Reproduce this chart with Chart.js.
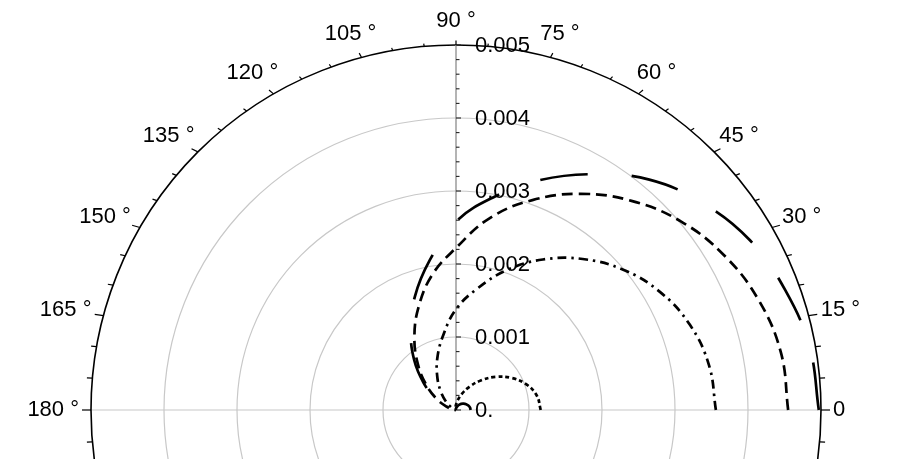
<!DOCTYPE html>
<html>
<head>
<meta charset="utf-8">
<script src="https://cdn.jsdelivr.net/npm/chart.js@4.4.1/dist/chart.umd.min.js"></script>
<style>
  html, body { margin: 0; padding: 0; background: #fff; overflow: hidden; }
  #wrap { width: 913px; height: 459px; position: relative; }
</style>
</head>
<body>
<div id="wrap"><canvas id="polarChart"></canvas></div>
<script>
// Ángulos (grados) y radios
const angles = [0, 10, 20, 30, 40, 50, 60, 70, 80, 90, 100, 110, 120, 130, 140, 150, 160, 170, 180];

const curveSolid    = [0.00020, 0.000195, 0.00018, 0.00016, 0.000135, 0.00011, 0.00008, 0.000055, 0.000035, 0.00002, 0.00001, 0, 0, 0, 0, 0, 0, 0, 0];
const curveDotted   = [0.00116, 0.001125, 0.001026, 0.000879, 0.000705, 0.000528, 0.000367, 0.000235, 0.000138, 0.000073, 0.000034, 0.000014, 0.000005, 0, 0, 0, 0, 0, 0];
const curveDotDash  = [0.00356, 0.00352, 0.00341, 0.00323, 0.00299, 0.00270, 0.00238, 0.00204, 0.00169, 0.00138, 0.00103, 0.00075, 0.00051, 0.00032, 0.00018, 0.00008, 0.00003, 0.00001, 0];
const curveDashed   = [0.00455, 0.00452, 0.00441, 0.00424, 0.00402, 0.00374, 0.00342, 0.00306, 0.00267, 0.00222, 0.00188, 0.00150, 0.00114, 0.00081, 0.00053, 0.00031, 0.00014, 0.00004, 0];
const curveLongDash = [0.00497, 0.00492, 0.00480, 0.00465, 0.00441, 0.00412, 0.00373, 0.00335, 0.00296, 0.00258, 0.00208, 0.00165, 0.00124, 0.00089, 0.00058, 0.00033, 0.00015, 0.00004, 0];

const radialTicks      = [0, 0.001, 0.002, 0.003, 0.004, 0.005];
const radialTickLabels = ['0.', '0.001', '0.002', '0.003', '0.004', '0.005'];
const angleTicks       = [0, 15, 30, 45, 60, 75, 90, 105, 120, 135, 150, 165, 180];
const angleTickLabels  = ['0', '15 °', '30 °', '45 °', '60 °', '75 °', '90 °', '105 °', '120 °', '135 °', '150 °', '165 °', '180 °'];

const rMax = 0.005;
const FONT = '22px "Liberation Sans", Arial, sans-serif';

// polar -> cartesiano
function toXY(rs) {
  return angles.map((a, i) => {
    const t = a * Math.PI / 180;
    return { x: rs[i] * Math.cos(t), y: rs[i] * Math.sin(t) };
  });
}

function curve(rs, dash) {
  return {
    data: toXY(rs),
    showLine: true,
    borderColor: '#000',
    borderWidth: 2.7,
    borderDash: dash,
    pointRadius: 0,
    tension: 0.4,
    fill: false
  };
}

// Marco polar: anillos, círculo exterior, marcas y etiquetas
const polarFrame = {
  id: 'polarFrame',
  beforeDatasetsDraw(chart) {
    const { ctx, scales: { x, y } } = chart;
    const cx = x.getPixelForValue(0), cy = y.getPixelForValue(0);
    const rad = v => x.getPixelForValue(v) - cx;
    const R = rad(rMax);
    ctx.save();

    ctx.strokeStyle = '#c8c8c8';
    ctx.lineWidth = 1.2;
    radialTicks.slice(1, -1).forEach(v => {
      ctx.beginPath();
      ctx.arc(cx, cy, rad(v), 0, 2 * Math.PI);
      ctx.stroke();
    });
    ctx.beginPath();
    ctx.moveTo(cx - R, cy);
    ctx.lineTo(cx + R, cy);
    ctx.stroke();

    ctx.strokeStyle = '#000';
    ctx.lineWidth = 1.6;
    ctx.beginPath();
    ctx.arc(cx, cy, R, 0, 2 * Math.PI);
    ctx.stroke();

    ctx.lineWidth = 1.2;
    for (let a = 0; a < 360; a += 5) {
      const t = a * Math.PI / 180, c = Math.cos(t), s = Math.sin(t);
      const len = a % 15 === 0 ? 9 : 5.5;
      const x0 = cx + R * c, y0 = cy - R * s;
      ctx.beginPath();
      ctx.moveTo(x0, y0);
      ctx.lineTo(x0 + len * c, y0 - len * 0.5 * s);
      ctx.stroke();
    }

    // eje radial
    ctx.strokeStyle = '#8c8c8c';
    ctx.lineWidth = 1.3;
    ctx.beginPath();
    ctx.moveTo(cx, cy);
    ctx.lineTo(cx, cy - R);
    ctx.stroke();
    ctx.strokeStyle = '#222';
    ctx.lineWidth = 1.1;
    for (let i = 0; i <= 25; i++) {
      const yy = cy - rad(i * 0.0002);
      const len = i % 5 === 0 ? 5 : 3.5;
      ctx.beginPath();
      ctx.moveTo(cx, yy);
      ctx.lineTo(cx + len, yy);
      ctx.stroke();
    }
    ctx.restore();
  },
  afterDatasetsDraw(chart) {
    const { ctx, scales: { x, y } } = chart;
    const cx = x.getPixelForValue(0), cy = y.getPixelForValue(0);
    const rad = v => x.getPixelForValue(v) - cx;
    const R = rad(rMax);
    ctx.save();
    ctx.font = FONT;
    ctx.fillStyle = '#000';
    ctx.textBaseline = 'middle';

    ctx.textAlign = 'left';
    radialTicks.forEach((v, i) => {
      ctx.fillText(radialTickLabels[i], cx + 19, cy - rad(v) + 1);
    });

    ctx.textAlign = 'center';
    angleTicks.forEach((a, i) => {
      const t = a * Math.PI / 180, c = Math.cos(t), s = Math.sin(t);
      const d = 12 + 5 * Math.abs(s);
      const w = ctx.measureText(angleTickLabels[i]).width, h = 15;
      const px = cx + (R + d) * c + c * w / 2;
      const py = cy - (R + d) * s - s * h / 2;
      ctx.fillText(angleTickLabels[i], px, py);
    });
    ctx.restore();
  }
};

new Chart(document.getElementById('polarChart'), {
  type: 'scatter',
  data: {
    datasets: [
      curve(curveSolid, []),
      curve(curveDotted, [4, 3]),
      curve(curveDotDash, [9, 5, 2.5, 5]),
      curve(curveDashed, [11, 6]),
      curve(curveLongDash, [48, 44])
    ]
  },
  options: {
    responsive: true,
    maintainAspectRatio: false,
    animation: false,
    events: [],
    layout: { padding: 0 },
    plugins: { legend: { display: false }, tooltip: { enabled: false } },
    scales: {
      x: { type: 'linear', display: false, min: -0.0062466, max: 0.0062603 },
      y: { type: 'linear', display: false, min: -0.00067123, max: 0.0056164 }
    }
  },
  plugins: [polarFrame]
});
</script>
</body>
</html>
